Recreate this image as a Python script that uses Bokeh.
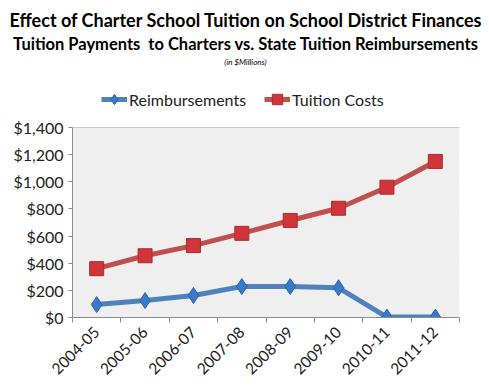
from math import pi
from bokeh.plotting import figure
from bokeh.layouts import column
from bokeh.models import (Range1d, FixedTicker, NumeralTickFormatter, Div, BoxAnnotation,
                          Legend, LegendItem, ColumnDataSource)
from bokeh.embed import file_html
from bokeh.resources import INLINE

years = ["2004-05", "2005-06", "2006-07", "2007-08", "2008-09", "2009-10", "2010-11", "2011-12"]
reimbursements = [95, 125, 162, 228, 228, 219, 3, 3]
tuition_costs = [360, 455, 530, 620, 715, 805, 960, 1150]
y_ticks = [0, 200, 400, 600, 800, 1000, 1200, 1400]

title1 = "Effect of Charter School Tuition on School District Finances"
title2 = "Tuition Payments&nbsp; to Charters vs. State Tuition Reimbursements"
title3 = "(in $Millions)"

FONT = "Lato"
W = 473
DIV_H = 70
FIG_H = 314
PLOT_H = 190     # height of the grey plotting area
FRAME_H = 232    # frame includes the legend strip above the plotting area
y_max = y_ticks[-1]

header = Div(
    text=(
        f'<div style="position:relative;left:9px;width:{W}px;text-align:center;color:#000;font-family:Lato;padding-top:8px;">'
        f'<div style="height:24px;line-height:24px;font-size:18px;font-weight:bold;white-space:nowrap;">{title1}</div>'
        f'<div style="height:25px;line-height:25px;font-size:16.5px;font-weight:bold;white-space:nowrap;">{title2}</div>'
        f'<div style="height:10px;line-height:10px;font-size:8px;font-style:italic;white-space:nowrap;">{title3}</div>'
        '</div>'
    ),
    width=W, height=DIV_H, margin=0,
)

xs = [i + 0.5 for i in range(len(years))]
src = ColumnDataSource(dict(x=xs, r=reimbursements, t=tuition_costs))

p = figure(width=W, height=FIG_H, output_backend="svg", toolbar_location=None,
           x_range=Range1d(0, len(years)), y_range=Range1d(0, y_max * FRAME_H / PLOT_H),
           min_border_left=72, min_border_right=14, min_border_top=FIG_H - FRAME_H - 67,
           min_border_bottom=67, margin=0)
p.outline_line_color = None
p.border_fill_color = "white"
p.background_fill_color = "white"
p.add_layout(BoxAnnotation(bottom=0, top=y_max, fill_color="#efefef", fill_alpha=1,
                           line_color=None, level="underlay"))

# y axis
p.yaxis.ticker = FixedTicker(ticks=y_ticks)
p.yaxis.bounds = (0, y_max)
p.yaxis.formatter = NumeralTickFormatter(format="$0,0")
p.yaxis.major_label_text_font = FONT
p.yaxis.major_label_text_font_size = "16px"
p.yaxis.major_label_text_color = "#222222"
p.yaxis.axis_line_color = "#8c8c8c"
p.yaxis.major_tick_line_color = "#8c8c8c"
p.yaxis.major_tick_in = 0
p.yaxis.major_tick_out = 4
p.yaxis.minor_tick_line_color = None
p.yaxis.major_label_standoff = 5

# x axis
p.xaxis.ticker = FixedTicker(ticks=xs, minor_ticks=list(range(len(years) + 1)))
p.xaxis.major_label_overrides = {x: y for x, y in zip(xs, years)}
p.xaxis.major_label_orientation = pi / 4
p.xaxis.major_label_text_font = FONT
p.xaxis.major_label_text_font_size = "15.5px"
p.xaxis.major_label_text_color = "#222222"
p.xaxis.major_tick_line_color = None
p.xaxis.minor_tick_line_color = "#8c8c8c"
p.xaxis.minor_tick_in = 0
p.xaxis.minor_tick_out = 5
p.xaxis.axis_line_color = "#8c8c8c"
p.xaxis.major_label_standoff = 6

p.xgrid.grid_line_color = None
p.ygrid.ticker = FixedTicker(ticks=y_ticks)
p.ygrid.grid_line_color = "#a0a0a0"

red_line, red_mark = "#c0504d", "#d0353a"
blue_line, blue_mark = "#4f81bd", "#3a78c8"

lr = p.line("x", "t", source=src, line_color=red_line, line_width=5)
mr = p.scatter("x", "t", source=src, marker="square", size=14, fill_color=red_mark,
               line_color="#b02a2a", line_width=1)
lb = p.line("x", "r", source=src, line_color=blue_line, line_width=5)
mb = p.scatter("x", "r", source=src, marker="diamond", size=16,
               fill_color=blue_mark, line_color="#2f65a8", line_width=1)

legend = Legend(items=[LegendItem(label="Reimbursements", renderers=[lb, mb]),
                       LegendItem(label="Tuition Costs", renderers=[lr, mr])],
                orientation="horizontal", location=(29, 203),
                label_text_font=FONT, label_text_font_size="16px",
                label_text_color="#222222", glyph_width=26, glyph_height=30,
                label_height=30, spacing=18, label_standoff=2,
                background_fill_alpha=0, border_line_color=None,
                padding=0, margin=0)
p.add_layout(legend, "center")

layout = column(header, p, spacing=0, margin=0)
open("out.html", "w").write(file_html(layout, INLINE))
